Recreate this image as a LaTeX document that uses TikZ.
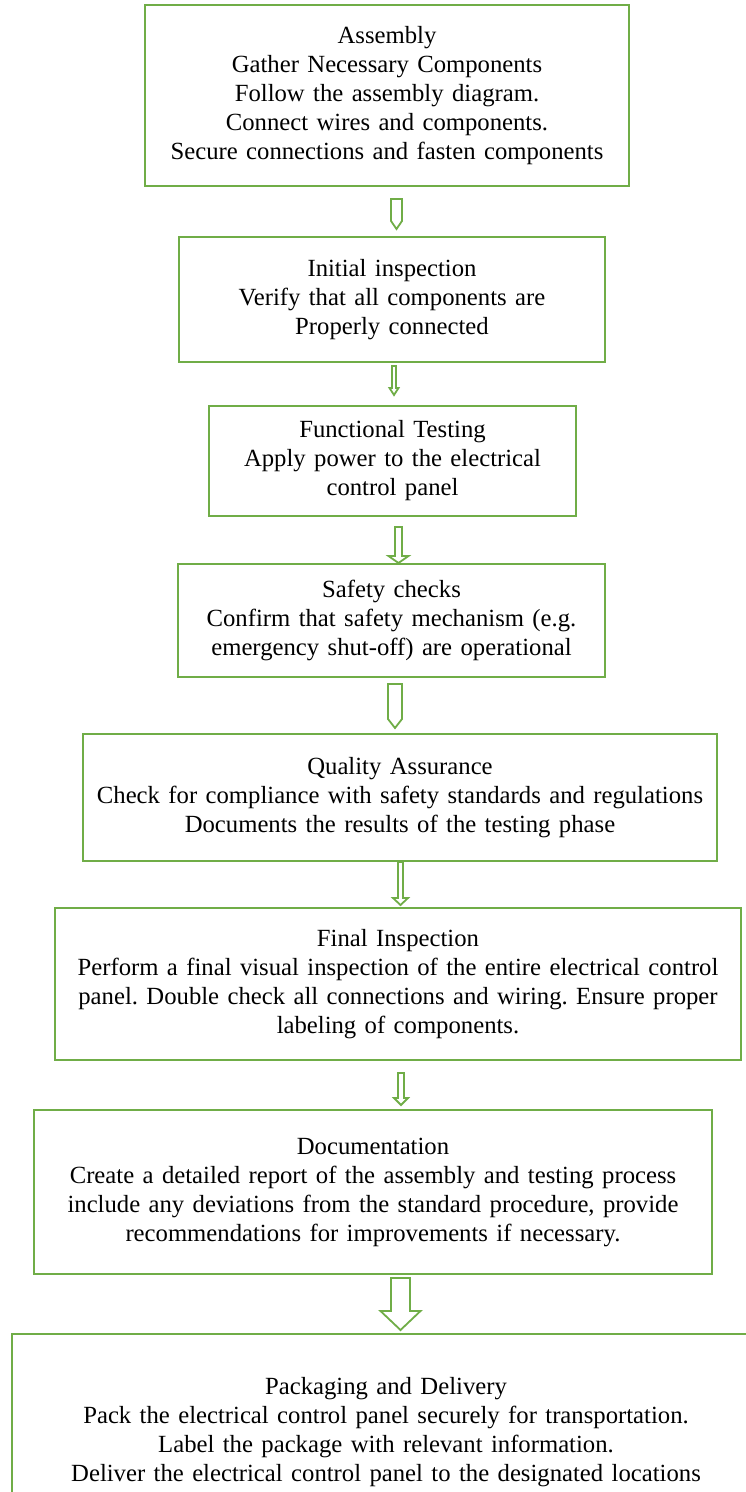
\documentclass[tikz,border=0pt]{standalone}
\usepackage{fontspec}
\setmainfont{Liberation Serif}
\definecolor{grn}{HTML}{70AD47}
\newcommand\boxfont{\fontsize{24.7}{29}\selectfont\spaceskip=8.4pt plus 1pt minus 1pt\xspaceskip=8.4pt plus 1pt\relax}
\tikzset{
  x=1pt,y=-1pt,
  box/.style={draw=grn,line width=2.8pt,fill=white,align=center,inner sep=0pt,
     font=\boxfont},
  barrow/.style={draw=grn,line width=1.8pt,fill=white,line join=miter},
}
\newcommand\blk[6]{% xc, top, headstart, tip, shaft hw, head hw
  \draw[barrow] (#1-#5,#2) -- (#1+#5,#2) -- (#1+#5,#3) -- (#1+#6,#3) -- (#1,#4)
     -- (#1-#6,#3) -- (#1-#5,#3) -- cycle;}
\begin{document}
\begin{tikzpicture}
\useasboundingbox (0,0) rectangle (746,1492);
\clip (0,0) rectangle (746,1492);
\node[box,minimum width=484pt,minimum height=181pt] (b1) at (387,95.5)
 {Assembly\\Gather Necessary Components\\Follow the assembly diagram.\\Connect wires and components.\\Secure connections and fasten components};
\node[box,minimum width=426pt,minimum height=125pt] (b2) at (392,299.5)
 {Initial inspection\\Verify that all components are\\Properly connected};
\node[box,minimum width=367pt,minimum height=110pt] (b3) at (392.5,461)
 {Functional Testing\\Apply power to the electrical\\control panel};
\node[box,minimum width=427pt,minimum height=113pt] (b4) at (391.5,620.5)
 {Safety checks\\Confirm that safety mechanism (e.g.\\emergency shut-off) are operational};
\node[box,minimum width=634pt,minimum height=127pt] (b5) at (400,797.5)
 {Quality Assurance\\Check for compliance with safety standards and regulations\\Documents the results of the testing phase};
\node[box,minimum width=686pt,minimum height=152pt] (b6) at (398,984)
 {Final Inspection\\Perform a final visual inspection of the entire electrical control\\panel. Double check all connections and wiring. Ensure proper\\labeling of components.};
\node[box,minimum width=678pt,minimum height=164pt] (b7) at (373,1192)
 {Documentation\\Create a detailed report of the assembly and testing process\\include any deviations from the standard procedure, provide\\recommendations for improvements if necessary.};
\node[box,minimum width=748pt,minimum height=196pt] (b8) at (386,1432)
 {Packaging and Delivery\\Pack the electrical control panel securely for transportation.\\Label the package with relevant information.\\Deliver the electrical control panel to the designated locations};
% connectors (block arrows between boxes)
\blk{396.5}{199}{221}{229}{5.5}{5.5}
\blk{394}{366}{388}{395}{2}{4.5}
\blk{398.5}{527}{556}{563}{3.5}{10}
\blk{395}{684}{719}{728}{7}{7}
\blk{400.5}{862}{898}{905}{2.5}{7.5}
\blk{401}{1073}{1098}{1105}{3}{7}
\blk{400.5}{1278}{1311}{1330}{9.5}{20}
\end{tikzpicture}
\end{document}
